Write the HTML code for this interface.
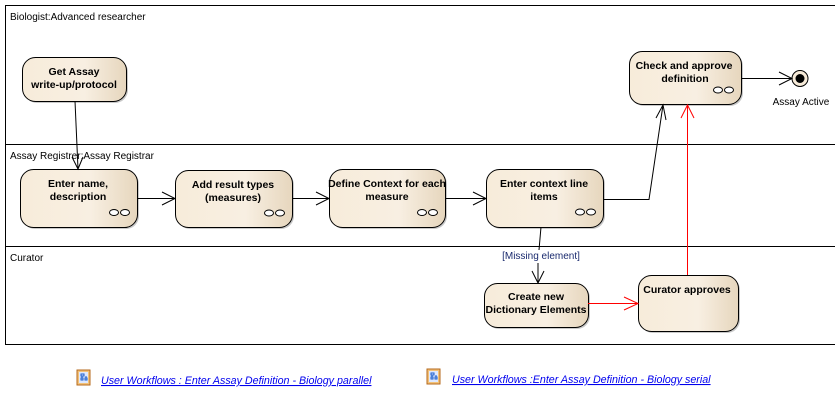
<!DOCTYPE html>
<html><head><meta charset="utf-8"><style>
html,body{margin:0;padding:0;background:#fff;width:835px;height:402px;overflow:hidden}
svg{display:block}
.t{font-family:"Liberation Sans",sans-serif;font-size:10.5px;font-weight:bold;fill:#000;text-anchor:middle}
.l{font-family:"Liberation Sans",sans-serif;font-size:10px;fill:#000}
.k{font-family:"Liberation Sans",sans-serif;font-size:10.7px;font-style:italic;fill:#0000ee;text-decoration:underline}
</style></head><body>
<svg width="835" height="402" viewBox="0 0 835 402" xmlns="http://www.w3.org/2000/svg">
<defs>
<linearGradient id="g" x1="0" x2="1" y1="0" y2="0">
<stop offset="0" stop-color="#f7ecda"/><stop offset="0.6" stop-color="#f8efe2"/><stop offset="1" stop-color="#e6d6bd"/>
</linearGradient>
</defs>
<g stroke="#000" stroke-width="1" fill="none">
<path d="M835 5.5H5.5V344.5H835"/>
<line x1="5" y1="144.5" x2="835" y2="144.5"/>
<line x1="5" y1="246.5" x2="835" y2="246.5"/>
</g>
<text class="l" x="10" y="20">Biologist:Advanced researcher</text>
<text class="l" x="10" y="159">Assay Registrer:Assay Registrar</text>
<text class="l" x="10" y="261">Curator</text>

<g stroke="#000" stroke-width="1">
<g fill="#c8c8c8" stroke="none">
<rect x="24" y="59" width="104" height="44" rx="13"/>
<rect x="22" y="171" width="117" height="58" rx="13"/>
<rect x="177" y="172" width="117" height="57" rx="13"/>
<rect x="331" y="171" width="116" height="58" rx="13"/>
<rect x="488" y="171" width="117" height="58" rx="13"/>
<rect x="631" y="53" width="112" height="53" rx="13"/>
<rect x="486" y="285" width="104" height="44" rx="13"/>
<rect x="640" y="277" width="100" height="56" rx="13"/>
</g>
<rect x="22.5" y="57.5" width="104" height="44" rx="13" fill="url(#g)"/>
<rect x="20.5" y="169.5" width="117" height="58" rx="13" fill="url(#g)"/>
<rect x="175.5" y="170.5" width="117" height="57" rx="13" fill="url(#g)"/>
<rect x="329.5" y="169.5" width="116" height="58" rx="13" fill="url(#g)"/>
<rect x="486.5" y="169.5" width="117" height="58" rx="13" fill="url(#g)"/>
<rect x="629.5" y="51.5" width="112" height="53" rx="13" fill="url(#g)"/>
<rect x="484.5" y="283.5" width="104" height="44" rx="13" fill="url(#g)"/>
<rect x="638.5" y="275.5" width="100" height="56" rx="13" fill="url(#g)"/>
</g>
<g fill="#fff" stroke="#000" stroke-width="1">
<ellipse cx="114" cy="212.5" rx="4.5" ry="3"/><ellipse cx="125" cy="212.5" rx="4.5" ry="3"/>
<ellipse cx="269" cy="213" rx="4.5" ry="3"/><ellipse cx="280" cy="213" rx="4.5" ry="3"/>
<ellipse cx="422" cy="212.5" rx="4.5" ry="3"/><ellipse cx="433" cy="212.5" rx="4.5" ry="3"/>
<ellipse cx="580" cy="212" rx="4.5" ry="3"/><ellipse cx="591" cy="212" rx="4.5" ry="3"/>
<ellipse cx="718" cy="90" rx="4.5" ry="3"/><ellipse cx="729" cy="90" rx="4.5" ry="3"/>
</g>
<text class="t" x="74" y="75">Get Assay</text>
<text class="t" x="74" y="88">write-up/protocol</text>
<text class="t" x="78" y="187">Enter name,</text>
<text class="t" x="78" y="200">description</text>
<text class="t" x="233" y="188">Add result types</text>
<text class="t" x="233" y="201">(measures)</text>
<text class="t" x="387" y="187">Define Context for each</text>
<text class="t" x="387" y="200">measure</text>
<text class="t" x="544" y="187">Enter context line</text>
<text class="t" x="544" y="200">items</text>
<text class="t" x="684" y="69">Check and approve</text>
<text class="t" x="685" y="82">definition</text>
<text class="t" x="536" y="300">Create new</text>
<text class="t" x="536" y="313">Dictionary Elements</text>
<text class="t" x="687" y="293">Curator approves</text>

<circle cx="800" cy="78.5" r="8" fill="#f6ead8" stroke="#000"/>
<circle cx="800" cy="78.5" r="4.5" fill="#000"/>
<text class="l" x="801" y="105" text-anchor="middle">Assay Active</text>

<g stroke="#000" stroke-width="1" fill="none">
<path d="M75 101L78 169"/><path d="M72 157L78 169L83 157"/>
<path d="M137 198.5H175"/><path d="M162 192L175 198.5L162 205"/>
<path d="M292 198.5H329"/><path d="M316 192L329 198.5L316 205"/>
<path d="M445 198.5H486"/><path d="M473 192L486 198.5L473 205"/>
<path d="M603 199.5H649L663 105"/><path d="M656 118L663 105L666 120"/>
<path d="M741 78.5H792"/><path d="M779 72L792 78.5L779 85"/>
<path d="M541 227L539 250"/><path d="M538 263L538 283"/><path d="M532 271L538 283L544 271"/>
</g>
<text class="l" x="541" y="259" text-anchor="middle" style="fill:#1a2a6e">[Missing element]</text>
<g stroke="#ff0000" stroke-width="1" fill="none">
<path d="M588 303.5H638"/><path d="M624 297L638 303.5L624 310"/>
<path d="M687.5 275V105"/><path d="M681 118L687.5 105L694 118"/>
</g>

<g>
<rect x="77" y="370" width="13" height="15" fill="#f2c27a" stroke="#b56a1e"/>
<rect x="79" y="372" width="9" height="11" fill="#dde8ff"/>
<path d="M81 374h3v2h-3zM81 378h2v2h-2zM85 378h2v2h-2zM82 376v2M86 376v2" stroke="#1a5dcc" stroke-width="1" fill="none"/>
<text class="k" x="101" y="384">User Workflows : Enter Assay Definition - Biology parallel</text>
<rect x="427" y="369" width="13" height="15" fill="#f2c27a" stroke="#b56a1e"/>
<rect x="429" y="371" width="9" height="11" fill="#dde8ff"/>
<path d="M431 373h3v2h-3zM431 377h2v2h-2zM435 377h2v2h-2zM432 375v2M436 375v2" stroke="#1a5dcc" stroke-width="1" fill="none"/>
<text class="k" x="452" y="383">User Workflows :Enter Assay Definition - Biology serial</text>
</g>
</svg>
</body></html>
